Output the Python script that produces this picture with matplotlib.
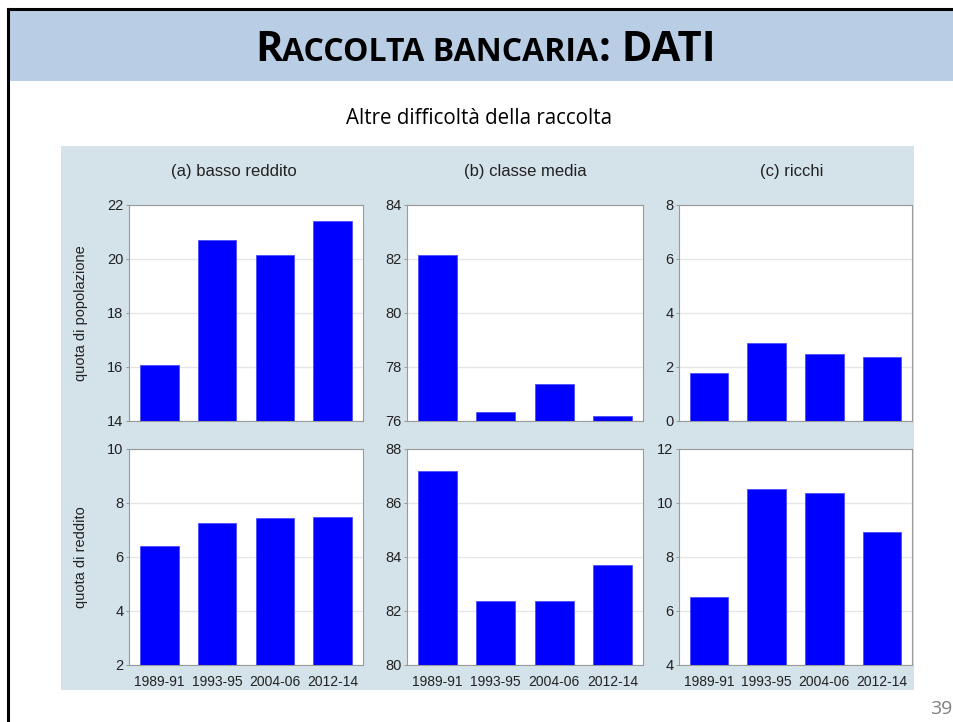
import matplotlib.pyplot as plt
from matplotlib.patches import Rectangle

# data
periods = ['1989-91', '1993-95', '2004-06', '2012-14']
panel_titles = ['(a) basso reddito', '(b) classe media', '(c) ricchi']
row_labels = ['quota di popolazione', 'quota di reddito']

pop_low = [16.08, 20.72, 20.13, 21.42]
pop_mid = [82.15, 76.34, 77.38, 76.2]
pop_rich = [1.79, 2.88, 2.48, 2.36]

inc_low = [6.41, 7.26, 7.43, 7.47]
inc_mid = [87.2, 82.37, 82.36, 83.72]
inc_rich = [6.52, 10.52, 10.36, 8.94]

pop_ylims = [(14, 22), (76, 84), (0, 8)]
inc_ylims = [(2, 10), (80, 88), (4, 12)]

W, H = 954, 722
BANNER = '#b9cde5'
CHART_BG = '#d4e2ea'
BAR = '#0000ff'


def px_rect(l, t, r, b):
    return [l / W, 1 - b / H, (r - l) / W, (b - t) / H]


def draw_small_caps(fig, x_center, y, parts, **kw):
    # parts: list of (text, fontsize); laid out left to right, then centred
    r = fig.canvas.get_renderer()
    texts = []
    x = 0
    for s, fs in parts:
        t = fig.text(0, y / H, s, fontsize=fs, ha='left', va='baseline',
                     transform=fig.transFigure, **kw)
        w = t.get_window_extent(renderer=r).width
        texts.append((t, x))
        x += w
    start = x_center - x / 2
    for t, off in texts:
        t.set_x((start + off) / W)


def main():
    fig = plt.figure(figsize=(W / 100, H / 100), dpi=100)
    fig.patch.set_facecolor('white')

    # slide frame + title banner
    fig.patches.append(Rectangle((9 / W, 1 - 81 / H), 1, 71 / H, transform=fig.transFigure,
                                 facecolor=BANNER, edgecolor='none', zorder=-2))
    fig.lines.append(plt.Line2D([8 / W, 8 / W], [0, 1 - 9 / H], transform=fig.transFigure,
                                color='black', lw=2.2))
    fig.lines.append(plt.Line2D([8 / W, 1], [1 - 9 / H, 1 - 9 / H], transform=fig.transFigure,
                                color='black', lw=2.2))

    draw_small_caps(fig, 485, H - 61,
                    [('R', 30), ('ACCOLTA BANCARIA', 23), (': DATI', 30)],
                    fontfamily='Open Sans', fontweight='bold', color='black')

    fig.text(479 / W, 1 - 118 / H, 'Altre difficoltà della raccolta', ha='center', va='center',
             fontsize=14.8, fontfamily='Open Sans', color='black')
    fig.text(952 / W, 1 - 709 / H, '39', ha='right', va='center',
             fontsize=14, fontfamily='Open Sans', color='#808080')

    # chart background
    fig.patches.append(Rectangle((61 / W, 1 - 690 / H), 853 / W, 544 / H, transform=fig.transFigure,
                                 facecolor=CHART_BG, edgecolor='none', zorder=-2))

    lefts = [129, 407, 679]
    rights = [363, 643, 912]
    title_x = [0.45, 0.5, 0.485]  # stata centres subtitles over the whole subgraph
    rows = [(205, 421), (449, 665)]
    data = [[pop_low, pop_mid, pop_rich], [inc_low, inc_mid, inc_rich]]
    ylims = [pop_ylims, inc_ylims]

    for i, (top, bot) in enumerate(rows):
        for j in range(3):
            ax = fig.add_axes(px_rect(lefts[j], top, rights[j], bot))
            ax.set_facecolor('white')
            ax.bar(range(4), data[i][j], width=0.67, color=BAR, edgecolor='#4d4dff',
                   linewidth=0.6, zorder=3)
            lo, hi = ylims[i][j]
            ax.set_ylim(lo, hi)
            ax.set_xlim(-0.52, 3.52)
            ax.set_yticks(range(lo, hi + 1, 2))
            ax.yaxis.grid(True, color='#e6e6e6', linewidth=1, zorder=0)
            ax.tick_params(axis='y', length=2, width=0.6, color='#8c8c8c', pad=2,
                           labelsize=10.5, labelcolor='#222222')
            ax.set_xticks(range(4))
            if i == 1:
                ax.set_xticklabels(periods)
                ax.tick_params(axis='x', length=0, pad=7, labelsize=10, labelcolor='#222222')
            else:
                ax.set_xticklabels([])
                ax.tick_params(axis='x', length=0)
                ax.set_title(panel_titles[j], x=title_x[j], fontsize=12, color='#222222', pad=21,
                             fontfamily='Liberation Sans')
            for lab in ax.get_xticklabels() + ax.get_yticklabels():
                lab.set_fontfamily('Liberation Sans')
            for sp in ax.spines.values():
                sp.set_color('#9a9a9a')
                sp.set_linewidth(0.8)
            if j == 0:
                ax.set_ylabel(row_labels[i], fontsize=10.5, color='#222222', labelpad=14,
                              fontfamily='Liberation Sans')

    fig.savefig('out.png', dpi=100)


if __name__ == '__main__':
    main()
